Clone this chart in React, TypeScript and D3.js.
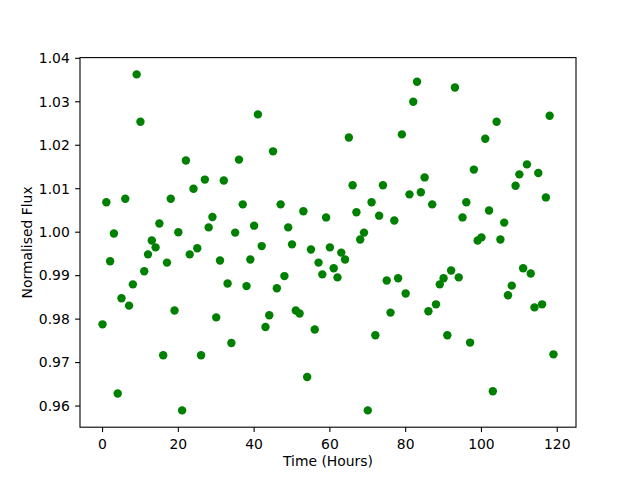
import React from "react";
import * as d3 from "d3";

const hours: number[] = Array.from({ length: 120 }, (_, i) => i);
const flux: number[] = [
  0.9788, 1.0069, 0.9933, 0.9997, 0.9629, 0.9848, 1.0077, 0.9831, 0.988, 1.0363,
  1.0254, 0.991, 0.9949, 0.9981, 0.9965, 1.002, 0.9717, 0.993, 1.0077, 0.982,
  1.0, 0.959, 1.0165, 0.9949, 1.01, 0.9963, 0.9717, 1.0121, 1.0011, 1.0035,
  0.9804, 0.9935, 1.0119, 0.9882, 0.9745, 0.9999, 1.0167, 1.0064, 0.9876, 0.9937,
  1.0015, 1.0271, 0.9968, 0.9782, 0.9809, 1.0186, 0.9871, 1.0064, 0.9899, 1.0011,
  0.9972, 0.982, 0.9813, 1.0048, 0.9667, 0.996, 0.9776, 0.993, 0.9903, 1.0034,
  0.9965, 0.9917, 0.9896, 0.9953, 0.9937, 1.0218, 1.0108, 1.0046, 0.9983, 0.9999,
  0.959, 1.0069, 0.9763, 1.0038, 1.0108, 0.9889, 0.9815, 1.0027, 0.9894, 1.0225,
  0.9859, 1.0087, 1.03, 1.0346, 1.0092, 1.0126, 0.9818, 1.0064, 0.9834, 0.988,
  0.9894, 0.9763, 0.9912, 1.0333, 0.9896, 1.0034, 1.0069, 0.9746, 1.0144, 0.9981,
  0.9988, 1.0215, 1.005, 0.9634, 1.0254, 0.9983, 1.0022, 0.9855, 0.9877, 1.0107,
  1.0133, 0.9917, 1.0156, 0.9905, 0.9827, 1.0136, 0.9834, 1.008, 1.0268, 0.9719,
];
const xTicks: number[] = [0, 20, 40, 60, 80, 100, 120];
const yTicks: number[] = [0.96, 0.97, 0.98, 0.99, 1.0, 1.01, 1.02, 1.03, 1.04];
const xLabel = "Time (Hours)";
const yLabel = "Normalised Flux";

export default function App() {
  const W = 640, H = 480;
  const left = 80, right = 576, top = 57.6, bottom = 427.2;
  const xMin = d3.min(hours)!, xMax = d3.max(hours)!;
  const yMin = d3.min(flux)!, yMax = d3.max(flux)!;
  const xm = (xMax - xMin) * 0.05, ym = (yMax - yMin) * 0.05;
  const x = d3.scaleLinear().domain([xMin - xm, xMax + xm]).range([left, right]);
  const y = d3.scaleLinear().domain([yMin - ym, yMax + ym]).range([bottom, top]);
  const font = "'DejaVu Sans', sans-serif";
  const green = "#008000";
  return (
    <svg width={W} height={H} style={{ position: "absolute", left: 0, top: 0, background: "#fff" }}
      fontFamily={font} fontSize={13.9}>
      <rect x={0} y={0} width={W} height={H} fill="#fff" />
      {hours.map((h, i) => (
        <circle key={i} cx={x(h)} cy={y(flux[i])} r={4.2} fill={green} />
      ))}
      <rect x={left} y={top} width={right - left} height={bottom - top} fill="none" stroke="#000" strokeWidth={1.1} />
      {xTicks.map((t) => (
        <g key={t}>
          <line x1={x(t)} x2={x(t)} y1={bottom} y2={bottom + 4.9} stroke="#000" strokeWidth={1.1} />
          <text x={x(t)} y={448.5} textAnchor="middle" fill="#000">{t}</text>
        </g>
      ))}
      {yTicks.map((t) => (
        <g key={t}>
          <line x1={left - 4.9} x2={left} y1={y(t)} y2={y(t)} stroke="#000" strokeWidth={1.1} />
          <text x={69.8} y={y(t) + 4.8} textAnchor="end" fill="#000">{t.toFixed(2)}</text>
        </g>
      ))}
      <text x={(left + right) / 2} y={466} textAnchor="middle" fill="#000">{xLabel}</text>
      <text transform={`translate(32.3, ${(top + bottom) / 2}) rotate(-90)`} textAnchor="middle" fill="#000">{yLabel}</text>
    </svg>
  );
}
